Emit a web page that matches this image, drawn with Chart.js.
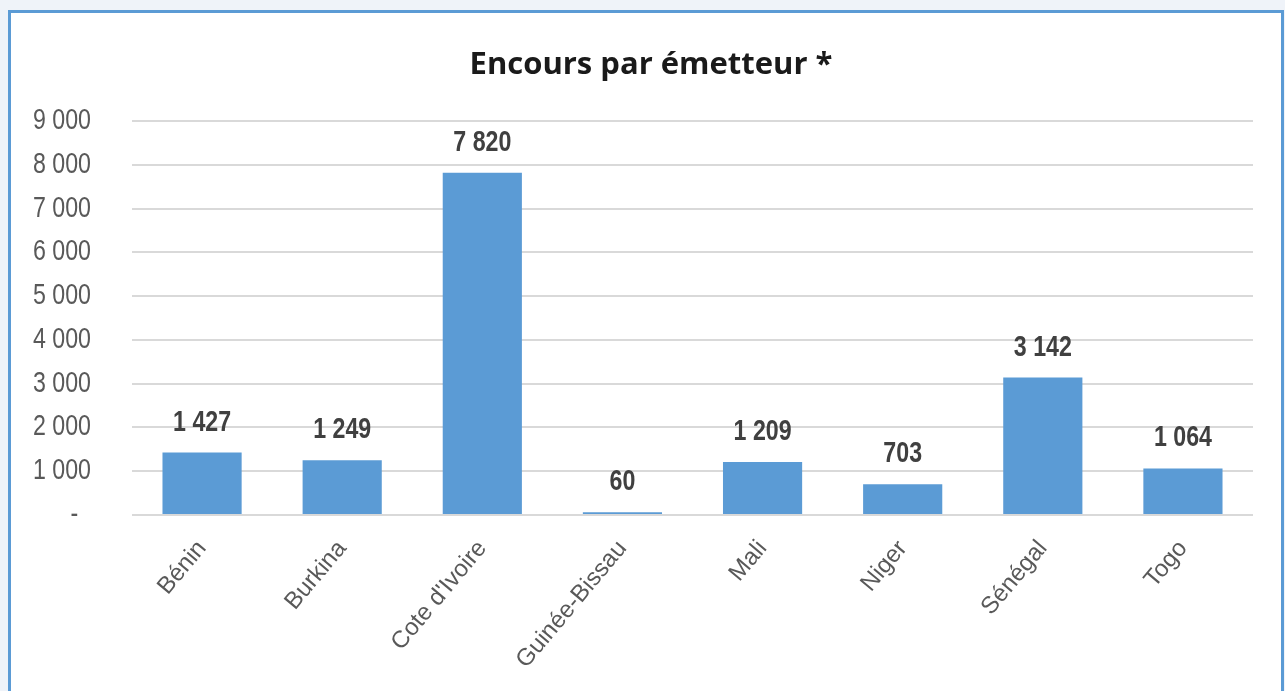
<!DOCTYPE html>
<html>
<head>
<meta charset="utf-8">
<script src="https://cdn.jsdelivr.net/npm/chart.js@4.4.1/dist/chart.umd.min.js"></script>
<style>
  html, body { margin: 0; padding: 0; background: #eff3f9; overflow: hidden; }
  #frame {
    position: absolute; left: 8px; top: 10px; width: 1270px; height: 700px;
    background: #fff; border: 3px solid #5b9bd5;
  }
  #wrap { position: absolute; left: 0; top: 0; width: 1285px; height: 691px; }
</style>
</head>
<body>
<div id="frame"></div>
<div id="wrap"><canvas id="chart" width="1285" height="691"></canvas></div>
<script>
const categories = ['Bénin', 'Burkina', "Cote d'Ivoire", 'Guinée-Bissau', 'Mali', 'Niger', 'Sénégal', 'Togo'];
const encours = [1427, 1249, 7820, 60, 1209, 703, 3142, 1064];
const yTickLabels = ['-  ', '1 000', '2 000', '3 000', '4 000', '5 000', '6 000', '7 000', '8 000', '9 000'];

const SANS = '"Liberation Sans", Arial, sans-serif';
const SQUEEZE = 0.8; // police étroite (type Arial Narrow) simulée

// nombres avec espace comme séparateur de milliers
const fmt = v => String(v).replace(/\B(?=(\d{3})+(?!\d))/g, ' ');

function narrowText(ctx, text, x, y, align) {
  ctx.save();
  ctx.translate(x, y);
  ctx.scale(SQUEEZE, 1);
  ctx.textAlign = align;
  ctx.fillText(text, 0, 0);
  ctx.restore();
}

const narrowLabels = {
  id: 'narrowLabels',
  afterDatasetsDraw(chart) {
    const ctx = chart.ctx;
    // étiquettes de l'axe Y
    const ys = chart.scales.y;
    ctx.save();
    ctx.font = '29px ' + SANS;
    ctx.fillStyle = '#595959';
    ctx.textBaseline = 'middle';
    ys.ticks.forEach((t, i) => {
      narrowText(ctx, yTickLabels[i], 91, ys.getPixelForTick(i), 'right');
    });
    ctx.restore();

    // valeurs au-dessus des barres
    const meta = chart.getDatasetMeta(0);
    ctx.save();
    ctx.font = 'bold 29px ' + SANS;
    ctx.fillStyle = '#404040';
    ctx.textBaseline = 'alphabetic';
    meta.data.forEach((bar, i) => {
      narrowText(ctx, fmt(encours[i]), bar.x, bar.y - 22, 'center');
    });
    ctx.restore();
  }
};

new Chart(document.getElementById('chart'), {
  type: 'bar',
  data: {
    labels: categories,
    datasets: [{
      data: encours,
      backgroundColor: '#5b9bd5',
      barPercentage: 0.565,
      categoryPercentage: 1
    }]
  },
  options: {
    responsive: false,
    animation: false,
    layout: { padding: { left: 49, right: 32, top: 0, bottom: 0 } },
    plugins: {
      legend: { display: false },
      tooltip: { enabled: false },
      title: {
        display: true,
        text: 'Encours par émetteur *',
        color: '#1a1a1a',
        font: { family: '"Open Sans", "Noto Sans", sans-serif', size: 31, weight: 'bold', lineHeight: 1.2 },
        padding: { top: 47, bottom: 37 }
      }
    },
    scales: {
      x: {
        grid: { display: false },
        border: { display: false },
        ticks: {
          color: '#595959',
          font: { family: SANS, size: 24 },
          minRotation: 50,
          maxRotation: 50,
          padding: 12
        },
        afterFit(scale) { scale.height = 176; }
      },
      y: {
        min: 0,
        max: 9000,
        border: { display: false },
        grid: { color: '#d9d9d9', lineWidth: 2, drawTicks: false },
        ticks: { stepSize: 1000, display: false },
        afterFit(scale) { scale.width = 83; }
      }
    }
  },
  plugins: [narrowLabels]
});
</script>
</body>
</html>
